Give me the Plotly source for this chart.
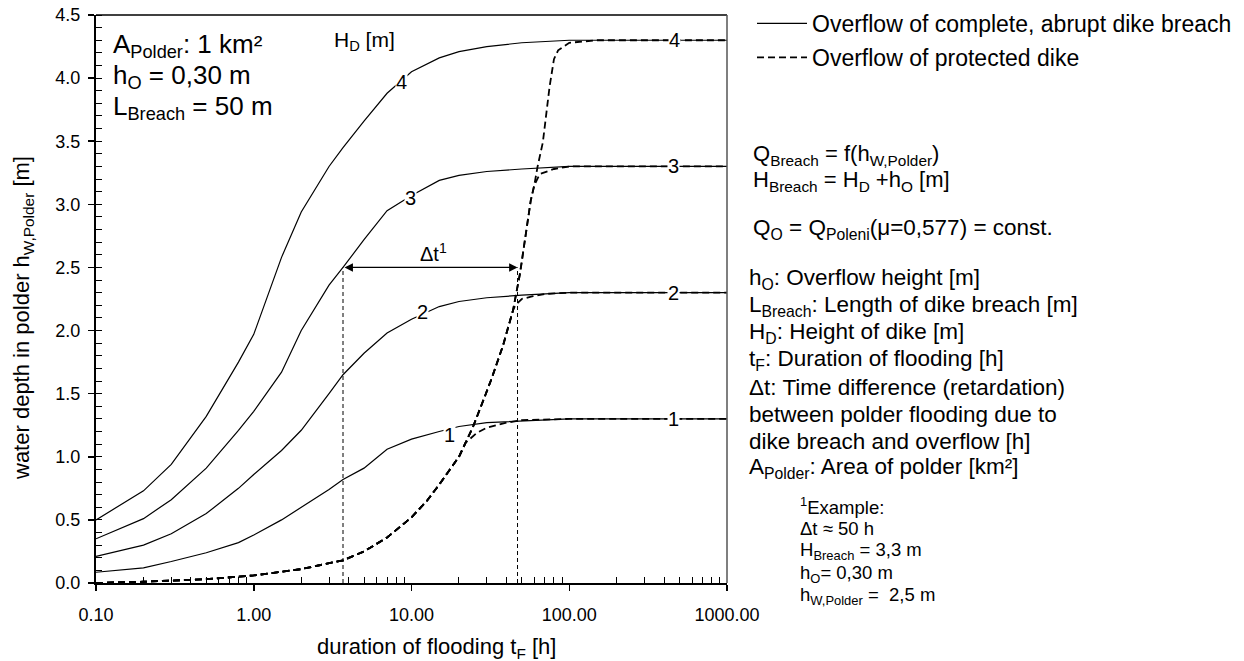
import math
import plotly.graph_objects as go

# ---------------- data ----------------
t_solid = [0.1, 0.2, 0.3, 0.5, 0.8, 1.0, 1.5, 2.0, 3.0, 3.68, 5.0, 7.0, 10.0, 15.0, 20.0, 30.0, 50.0, 100.0, 200.0, 500.0, 1000.0]
h_breach_1 = [0.085, 0.12, 0.17, 0.24, 0.32, 0.38, 0.50, 0.60, 0.74, 0.82, 0.91, 1.06, 1.14, 1.20, 1.24, 1.27, 1.285, 1.30, 1.30, 1.30, 1.30]
h_breach_2 = [0.21, 0.30, 0.39, 0.55, 0.75, 0.86, 1.05, 1.21, 1.50, 1.65, 1.82, 1.98, 2.09, 2.19, 2.23, 2.26, 2.28, 2.30, 2.30, 2.30, 2.30]
h_breach_3 = [0.35, 0.51, 0.66, 0.91, 1.21, 1.36, 1.67, 2.00, 2.36, 2.50, 2.72, 2.95, 3.07, 3.19, 3.23, 3.26, 3.28, 3.30, 3.30, 3.30, 3.30]
h_breach_4 = [0.50, 0.73, 0.94, 1.32, 1.75, 1.97, 2.58, 2.94, 3.30, 3.45, 3.66, 3.88, 4.05, 4.16, 4.21, 4.25, 4.28, 4.30, 4.30, 4.30, 4.30]

# overflow of protected dike (dashed)
t_over_common = [0.1, 0.2, 0.5, 1.0, 2.0, 3.68, 5.0, 7.0, 10.0, 12.5, 15.0, 17.0, 20.0, 22.0]
h_over_common = [0.0, 0.01, 0.03, 0.06, 0.11, 0.18, 0.25, 0.36, 0.52, 0.65, 0.78, 0.88, 1.00, 1.11]
t_over_1_tail = [26.0, 30.0, 40.0, 50.0, 100.0, 1000.0]
h_over_1_tail = [1.19, 1.23, 1.27, 1.29, 1.30, 1.30]
t_over_steep = [24.6, 29.0, 32.0, 38.0, 44.0]
h_over_steep = [1.24, 1.47, 1.61, 1.88, 2.16]
t_over_2_tail = [45.5, 50.0, 58.0, 70.0, 100.0, 1000.0]
h_over_2_tail = [2.20, 2.25, 2.27, 2.29, 2.30, 2.30]
t_over_steep2 = [48.7, 57.0, 60.0]
h_over_steep2 = [2.45, 3.03, 3.15]
t_over_3_tail = [65.0, 80.0, 100.0, 1000.0]
h_over_3_tail = [3.24, 3.28, 3.30, 3.30]
t_over_steep3 = [63.0, 68.0, 75.0]
h_over_steep3 = [3.30, 3.49, 3.93]
t_over_4_tail = [80.0, 85.0, 100.0, 150.0, 1000.0]
h_over_4_tail = [4.15, 4.22, 4.28, 4.30, 4.30]

dike_heights = [1, 2, 3, 4]
label_mid_t = [17.3, 11.8, 9.8, 8.7]
label_mid_h = [1.17, 2.15, 3.05, 3.97]
label_end_t = [455.0, 455.0, 455.0, 468.0]
label_end_h = [1.30, 2.30, 3.30, 4.30]

# example (delta t)
dt_start_t = 3.68
dt_end_t = 47.0
dt_level = 2.5

x_tickvals = [0.1, 1, 10, 100, 1000]
x_ticktext = ["0.10", "1.00", "10.00", "100.00", "1000.00"]

# ---------------- figure ----------------
FONT = "Liberation Sans, Arial, sans-serif"
fig = go.Figure()

solid_sets = [h_breach_1, h_breach_2, h_breach_3, h_breach_4]
for i, hs in enumerate(solid_sets):
    fig.add_trace(go.Scatter(
        x=t_solid, y=hs, mode="lines",
        line=dict(color="black", width=1.2),
        name="Overflow of complete, abrupt dike breach",
        legendgroup="solid", showlegend=(i == 0), hoverinfo="skip"))

over_1_t = t_over_common + t_over_1_tail
over_1_h = h_over_common + h_over_1_tail
over_2_t = t_over_common + t_over_steep + t_over_2_tail
over_2_h = h_over_common + h_over_steep + h_over_2_tail
over_3_t = t_over_common + t_over_steep + t_over_steep2 + t_over_3_tail
over_3_h = h_over_common + h_over_steep + h_over_steep2 + h_over_3_tail
over_4_t = t_over_common + t_over_steep + t_over_steep2 + t_over_steep3 + t_over_4_tail
over_4_h = h_over_common + h_over_steep + h_over_steep2 + h_over_steep3 + h_over_4_tail

for i, (tt, hh) in enumerate([(over_1_t, over_1_h), (over_2_t, over_2_h), (over_3_t, over_3_h), (over_4_t, over_4_h)]):
    fig.add_trace(go.Scatter(
        x=tt, y=hh, mode="lines",
        line=dict(color="black", width=1.8, dash="7px,4px"),
        name="Overflow of protected dike",
        legendgroup="dash", showlegend=(i == 0), hoverinfo="skip"))

# vertical dashed guide lines
for tv in [dt_start_t, dt_end_t]:
    fig.add_trace(go.Scatter(
        x=[tv, tv], y=[0, dt_level], mode="lines",
        line=dict(color="black", width=1, dash="4px,3px"),
        showlegend=False, hoverinfo="skip"))

# delta t arrow
fig.add_annotation(x=math.log10(dt_end_t), y=dt_level, xref="x", yref="y",
                   ax=math.log10(dt_start_t), ay=dt_level, axref="x", ayref="y",
                   text="", showarrow=True, arrowhead=2, startarrowhead=2,
                   arrowside="end+start", arrowsize=1.4, startarrowsize=1.4,
                   arrowwidth=1.2, arrowcolor="black")
fig.add_annotation(x=math.log10(13.7), y=2.62, xref="x", yref="y", text="Δt<sup>1</sup>",
                   showarrow=False, font=dict(size=20, family=FONT, color="black"))

# curve labels
for d, tm, hm, te, he in zip(dike_heights, label_mid_t, label_mid_h, label_end_t, label_end_h):
    for tx, hy in [(tm, hm), (te, he)]:
        fig.add_annotation(x=math.log10(tx), y=hy, xref="x", yref="y", text=str(d),
                           showarrow=False, bgcolor="white", borderpad=0,
                           font=dict(size=20, family=FONT, color="black"))

# ---------- layout geometry (page pixels) ----------
W, H = 1244, 661
L, R, T, B = 96, 727, 15, 583
def px(x):
    return (x - L) / (R - L)
def py(y):
    return (B - y) / (B - T)

def txt(x, y, s, size=22, anchor="left", angle=0):
    fig.add_annotation(x=px(x), y=py(y), xref="paper", yref="paper", text=s,
                       showarrow=False, xanchor=anchor, yanchor="middle", align="left",
                       textangle=angle,
                       font=dict(size=size, family=FONT, color="black"))

txt(111, 45, "A<sub>Polder</sub>: 1 km²", 26)
txt(111, 77, "h<sub>O</sub> = 0,30 m", 26)
txt(111, 108, "L<sub>Breach</sub> = 50 m", 26)
txt(332, 41, "H<sub>D</sub> [m]", 21)

txt(751, 155, "Q<sub>Breach</sub> = f(h<sub>W,Polder</sub>)", 22)
txt(751, 181, "H<sub>Breach</sub> = H<sub>D</sub> +h<sub>O</sub> [m]", 22)
txt(751, 229, "Q<sub>O</sub> = Q<sub>Poleni</sub>(μ=0,577) = const.", 22.5)

right_lines = [
    "h<sub>O</sub>: Overflow height [m]",
    "L<sub>Breach</sub>: Length of dike breach [m]",
    "H<sub>D</sub>: Height of dike [m]",
    "t<sub>F</sub>: Duration of flooding [h]",
    "Δt: Time difference (retardation)",
    "between polder flooding due to",
    "dike breach and overflow [h]",
    "A<sub>Polder</sub>: Area of polder [km²]",
]
for k, s in enumerate(right_lines):
    txt(747, 279 + k * 27, s, 22.5)

small_lines = [
    "<sup>1</sup>Example:",
    "Δt ≈ 50 h",
    "H<sub>Breach</sub> = 3,3 m",
    "h<sub>O</sub>= 0,30 m",
    "h<sub>W,Polder</sub> =  2,5 m",
]
for k, s in enumerate(small_lines):
    txt(798, 506 + k * 22.5, s, 18.5)

# axis titles
txt(436, 648, "duration of flooding t<sub>F</sub> [h]", 22, anchor="center")
txt(23, 318, "water depth in polder h<sub>W,Polder</sub> [m]", 22, anchor="center", angle=-90)

fig.update_layout(
    width=W, height=H,
    margin=dict(l=L, r=W - R, t=T, b=H - B, autoexpand=False),
    paper_bgcolor="white", plot_bgcolor="white",
    font=dict(family=FONT, color="black", size=18),
    showlegend=True,
    legend=dict(x=px(752), y=py(2), xanchor="left", yanchor="top",
                font=dict(size=23, family=FONT), bgcolor="rgba(0,0,0,0)",
                tracegroupgap=1, traceorder="grouped", itemwidth=50),
    xaxis=dict(type="log", range=[-1, 3], tickvals=x_tickvals, ticktext=x_ticktext,
               ticks="outside", ticklen=6, tickwidth=1.5, tickcolor="black",
               ticklabelstandoff=8, ticklabeloverflow="allow",
               showline=True, linecolor="black", linewidth=2, mirror=False,
               showgrid=False, zeroline=False,
               tickfont=dict(size=18, family=FONT),
               minor=dict(tickvals=[m * 10 ** e for e in range(-1, 3) for m in range(2, 10)],
                          ticks="inside", ticklen=6, tickwidth=1, tickcolor="black", showgrid=False)),
    yaxis=dict(range=[0, 4.5], dtick=0.5, tickformat=".1f",
               ticks="outside", ticklen=6, tickwidth=1.5, tickcolor="black",
               ticklabelstandoff=4, ticklabeloverflow="allow",
               showline=True, linecolor="black", linewidth=2,
               showgrid=False, zeroline=False,
               tickfont=dict(size=18, family=FONT),
               minor=dict(dtick=0.1, ticks="inside", ticklen=6, tickwidth=1, tickcolor="black", showgrid=False)),
)

# frame: top and right border
fig.add_shape(type="line", xref="paper", yref="paper", x0=0, x1=1, y0=1, y1=1,
              line=dict(color="black", width=1.5))
fig.add_shape(type="line", xref="paper", yref="paper", x0=1, x1=1, y0=0, y1=1,
              line=dict(color="#555555", width=1.5))

fig.write_html("out.html", config={"displayModeBar": False, "staticPlot": True},
               post_script="document.body.style.margin='0';document.body.style.overflow='hidden';")
